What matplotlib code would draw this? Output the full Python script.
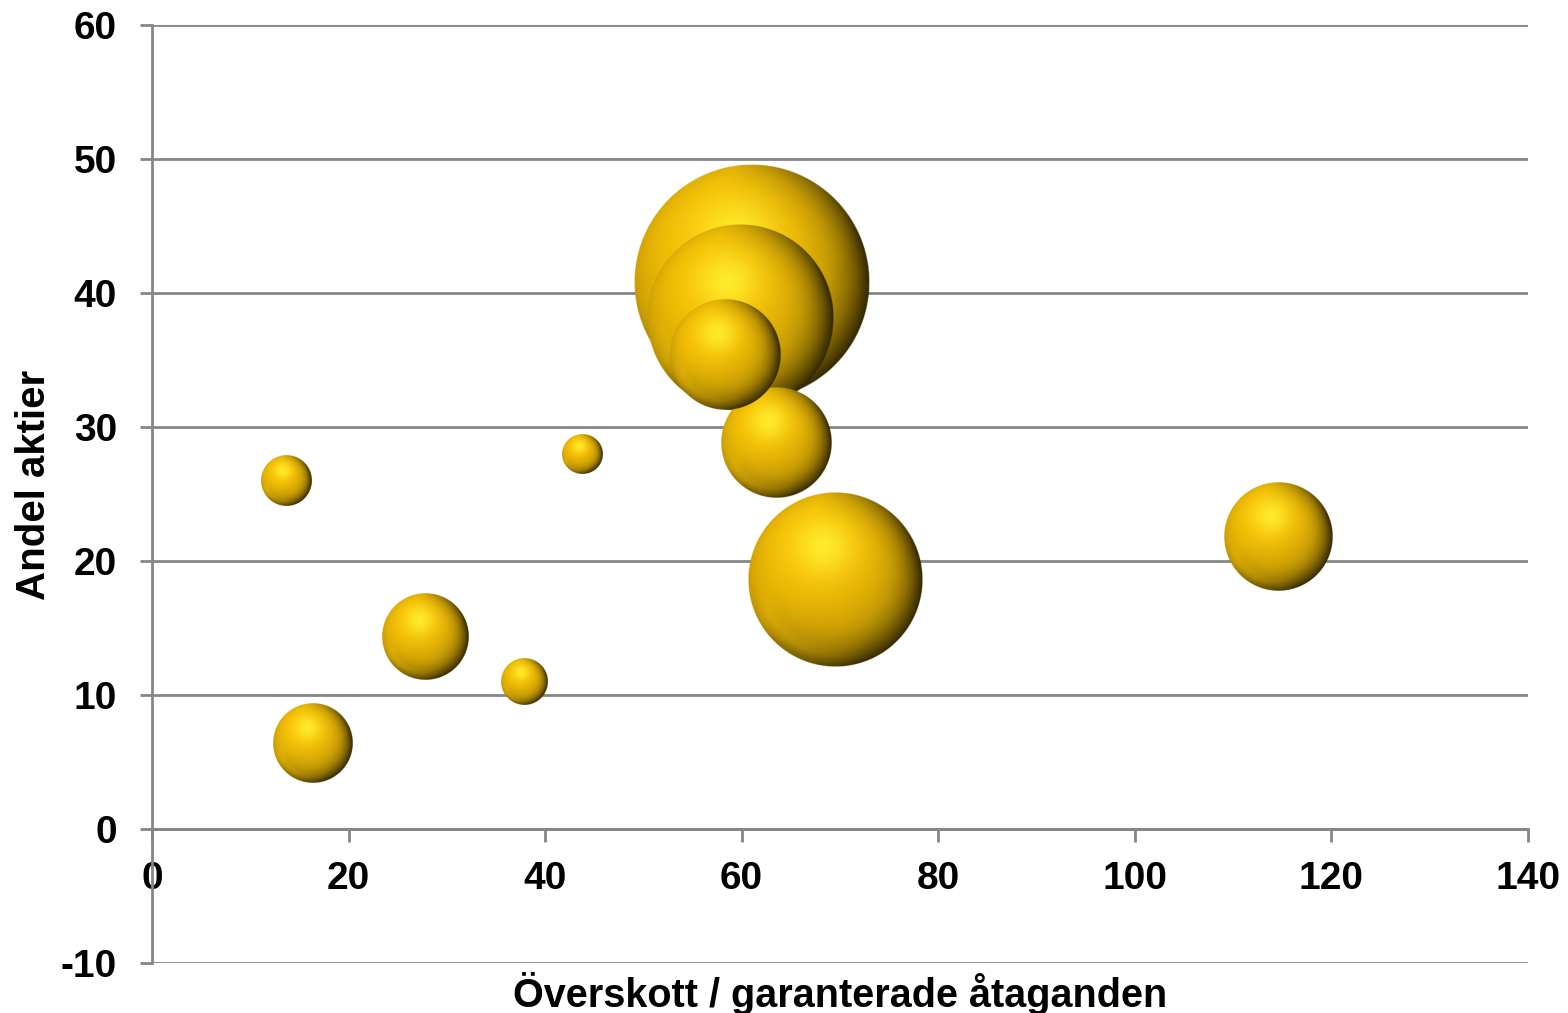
import numpy as np
import matplotlib.pyplot as plt

# bubble data
x_vals = [61.0, 59.8, 58.3, 63.5, 69.5, 114.6, 13.6, 43.8, 27.8, 37.9, 16.4]
y_vals = [40.8, 38.1, 35.4, 28.8, 18.6, 21.8, 26.0, 28.0, 14.3, 11.0, 6.4]
sizes = [139.0, 86.5, 30.3, 30.3, 76.5, 29.2, 6.3, 4.0, 18.5, 5.3, 16.0]

x_ticks = list(range(0, 141, 20))
y_ticks = list(range(-10, 61, 10))


def sphere_image(n=400):
    # gold sphere: highlight upper left, dark rim lower right
    t = np.linspace(-1, 1, n)
    X, Y = np.meshgrid(t, -t)
    R = np.sqrt(X**2 + Y**2)
    Z = np.sqrt(np.clip(1 - R**2, 0, 1))
    L = np.array([-0.25, 0.45, 0.86])
    L = L / np.linalg.norm(L)
    diff = np.clip(X*L[0] + Y*L[1] + Z*L[2], 0, 1)
    gold = np.array([0.92, 0.72, 0.02])
    shade = 0.72 + 0.35 * diff
    col = gold[None, None, :] * shade[..., None]
    rim = R**5 * np.clip(0.45 + 0.75*X - 0.35*Y, 0, 1)
    col = col * (1 - 0.72 * rim[..., None])
    hd = np.sqrt((X + 0.14)**2 + (Y - 0.38)**2)
    spec = np.exp(-(hd / 0.33)**2)
    col = col + spec[..., None] * (np.array([1.0, 0.95, 0.2]) - col) * 0.8
    band = np.exp(-((R - 0.86) / 0.09)**2) * np.clip(-Y, 0, 1) * np.clip(0.4 - X, 0, 1)
    col = col + band[..., None] * np.array([0.10, 0.09, 0.02])
    col = np.clip(col, 0, 1)
    alpha = np.clip((1 - R) * n / 2.5, 0, 1)
    return np.dstack([col, alpha])


plt.rcParams['font.family'] = ['Liberation Sans', 'DejaVu Sans']
plt.rcParams['font.weight'] = 'bold'
plt.rcParams['axes.unicode_minus'] = False

fig = plt.figure(figsize=(15.68, 10.13), dpi=100)
ax = fig.add_axes([0.0969, 0.0494, 0.8776, 0.9259])
ax.set_xlim(0, 140)
ax.set_ylim(-10, 60)

gray = '#868686'
for yv in y_ticks:
    ax.axhline(yv, color=gray, lw=2, zorder=1)
for s in ['top', 'right']:
    ax.spines[s].set_visible(False)
ax.spines['bottom'].set_position(('data', 0))
for s in ['left', 'bottom']:
    ax.spines[s].set_color(gray)
    ax.spines[s].set_linewidth(2)
    ax.spines[s].set_zorder(2)

ax.set_xticks(x_ticks)
ax.set_yticks(y_ticks)
ax.tick_params(axis='both', colors=gray, width=2, length=9, labelsize=28,
               labelcolor='black')
ax.tick_params(axis='x', pad=14)
ax.tick_params(axis='y', pad=16)
for lab in ax.get_xticklabels() + ax.get_yticklabels():
    lab.set_fontweight('bold')

ax.set_xlabel('Överskott / garanterade åtaganden', fontsize=28.5,
              fontweight='bold')
ax.set_ylabel('Andel aktier', fontsize=29, fontweight='bold')
ax.xaxis.set_label_coords(0.5, -0.01)
ax.yaxis.set_label_coords(-0.072, 0.51)

img = sphere_image()
fig.canvas.draw()
order = np.argsort(sizes)[::-1]
for k, i in enumerate(order):
    r_px = 7.2 * np.sqrt(sizes[i]) * fig.dpi / 72.0
    cx, cy = ax.transData.transform((x_vals[i], y_vals[i]))
    x0, y0 = ax.transData.inverted().transform((cx - r_px, cy - r_px))
    x1, y1 = ax.transData.inverted().transform((cx + r_px, cy + r_px))
    ax.imshow(img, extent=[x0, x1, y0, y1], zorder=3 + k,
              interpolation='antialiased', aspect='auto')
ax.set_xlim(0, 140)
ax.set_ylim(-10, 60)

fig.savefig('out.png', dpi=100)
